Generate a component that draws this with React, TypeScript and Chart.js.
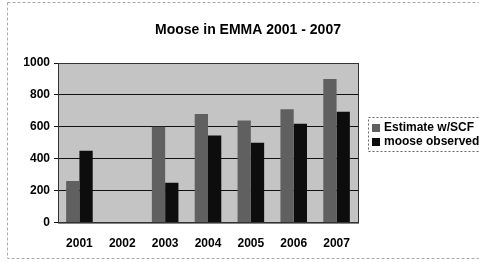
import React, { useEffect, useRef } from "react";
import { Chart, registerables } from "chart.js";

Chart.register(...registerables);

const years = ["2001", "2002", "2003", "2004", "2005", "2006", "2007"];
const estimateSCF = [260, null, 600, 680, 640, 710, 900];
const mooseObserved = [450, null, 250, 545, 500, 620, 695];
const yTicks = [0, 200, 400, 600, 800, 1000];
const titleText = "Moose in EMMA 2001 - 2007";

const FONT = "Arial, 'Liberation Sans', sans-serif";

const decor = {
  id: "decor",
  beforeDraw(chart: any) {
    const { ctx, chartArea: a } = chart;
    ctx.save();
    ctx.fillStyle = "#ffffff";
    ctx.fillRect(0, 0, chart.width, chart.height);
    ctx.strokeStyle = "#aaaaaa";
    ctx.setLineDash([3, 2]);
    ctx.lineWidth = 1;
    ctx.strokeRect(7.5, 2.5, chart.width - 6, chart.height - 6);
    ctx.setLineDash([]);
    ctx.fillStyle = "#c4c4c4";
    ctx.fillRect(a.left, a.top, a.right - a.left, a.bottom - a.top);
    // title
    ctx.fillStyle = "#000";
    ctx.font = "bold 14px " + FONT;
    ctx.textAlign = "center";
    ctx.textBaseline = "middle";
    ctx.fillText(titleText, 248, 30);
    ctx.restore();
  },
  afterDraw(chart: any) {
    const { ctx, chartArea: a } = chart;
    ctx.save();
    ctx.strokeStyle = "#333";
    ctx.lineWidth = 1;
    ctx.strokeRect(a.left + 0.5, a.top + 0.5, a.right - a.left, a.bottom - a.top);
    // legend
    const lx = a.right + 10;
    const ly = 117;
    ctx.setLineDash([2, 2]);
    ctx.strokeStyle = "#666";
    ctx.strokeRect(lx + 0.5, ly + 0.5, 130, 34);
    ctx.setLineDash([]);
    ctx.font = "bold 12px " + FONT;
    ctx.textBaseline = "middle";
    chart.data.datasets.forEach((ds: any, i: number) => {
      const y = ly + 11 + i * 14;
      ctx.fillStyle = ds.backgroundColor;
      ctx.fillRect(lx + 4, y - 4, 8, 8);
      ctx.fillStyle = "#000";
      ctx.fillText(ds.label, lx + 16, y);
    });
    ctx.restore();
  },
};

export default function App() {
  const ref = useRef<HTMLCanvasElement>(null);
  useEffect(() => {
    const chart = new Chart(ref.current!, {
      type: "bar",
      data: {
        labels: years,
        datasets: [
          { label: "Estimate w/SCF", data: estimateSCF, backgroundColor: "#606060" },
          { label: "moose observed", data: mooseObserved, backgroundColor: "#0d0d0d" },
        ],
      },
      options: {
        animation: false,
        responsive: false,
        devicePixelRatio: 1,
        layout: { padding: { left: 8, right: 121, top: 63, bottom: 5 } },
        datasets: { bar: { categoryPercentage: 0.62, barPercentage: 1 } } as any,
        plugins: {
          legend: { display: false },
          tooltip: { enabled: false },
          title: { display: false },
        },
        scales: {
          x: {
            grid: { display: false },
            border: { color: "#333" },
            ticks: {
              color: "#000",
              font: { family: FONT, size: 12, weight: "bold" },
              padding: 6,
            },
          },
          y: {
            min: 0,
            max: 1000,
            afterBuildTicks: (s: any) => {
              s.ticks = yTicks.map((v) => ({ value: v }));
            },
            afterFit: (s: any) => {
              s.width = 50;
            },
            grid: { color: "#111", drawTicks: true, tickLength: 4 },
            border: { color: "#333" },
            ticks: {
              color: "#000",
              font: { family: FONT, size: 12, weight: "bold" },
              padding: 4,
              callback: (v: any) => String(v),
            },
          },
        },
      },
      plugins: [decor],
    });
    return () => chart.destroy();
  }, []);
  return (
    <div style={{ position: "fixed", left: 0, top: 0, width: 479, height: 262 }}>
      <canvas ref={ref} width={479} height={262} style={{ display: "block" }} />
    </div>
  );
}
